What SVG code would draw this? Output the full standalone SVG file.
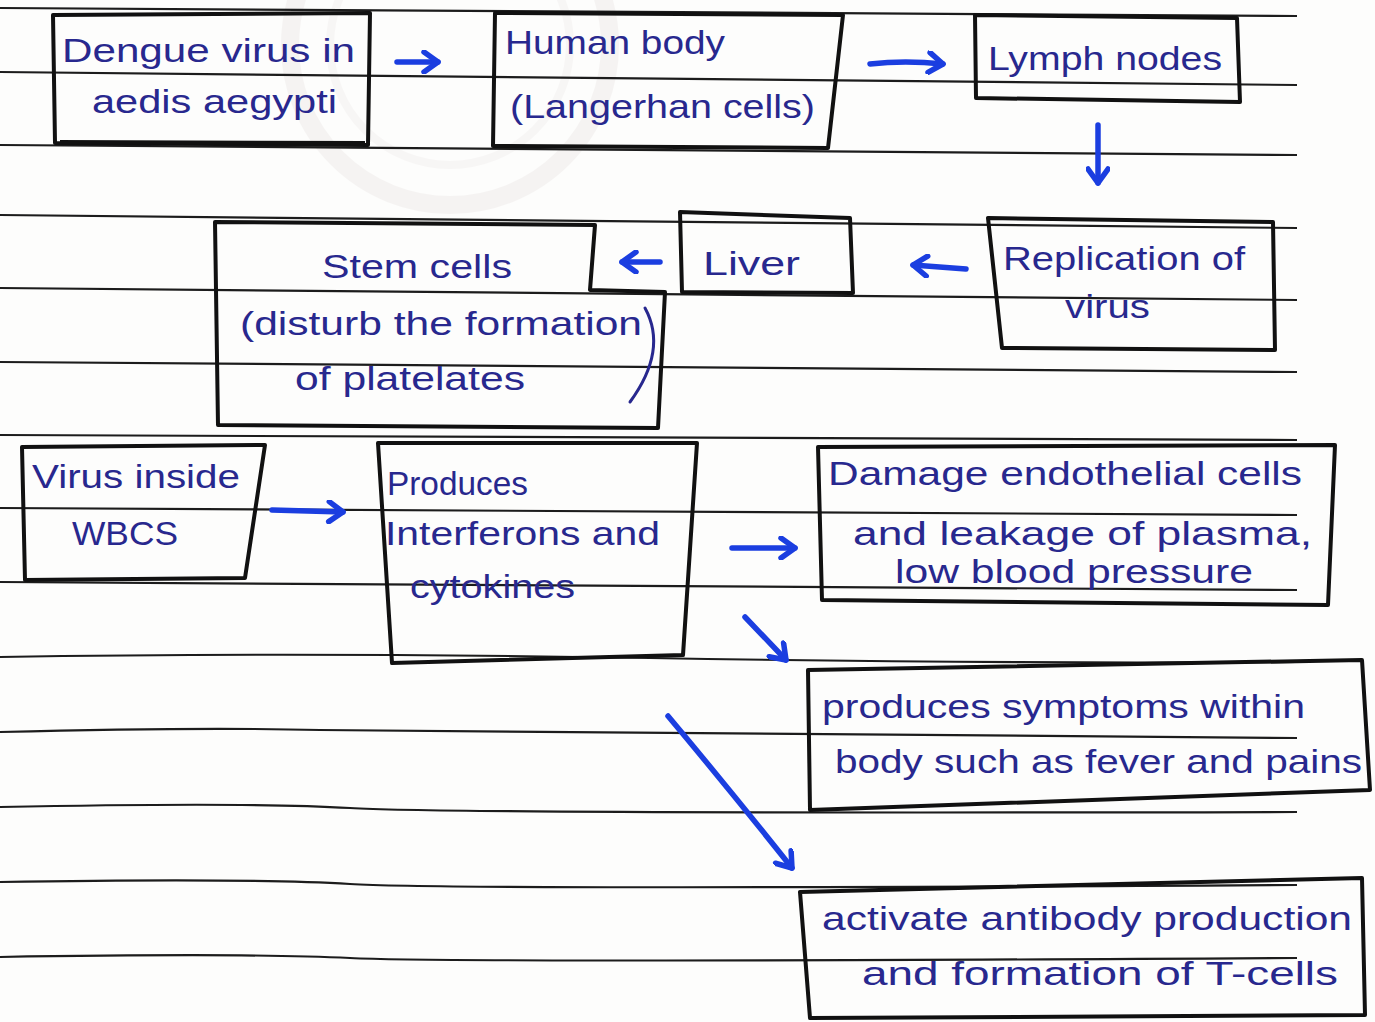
<svg xmlns="http://www.w3.org/2000/svg" width="1375" height="1022" viewBox="0 0 1375 1022">
<style>
.rule{fill:none;stroke:#1c1c1c;stroke-width:2.2}
.box{fill:none;stroke:#111;stroke-width:4;stroke-linejoin:round}
.t{font-family:"Liberation Sans","DejaVu Sans",sans-serif;font-size:34px;fill:#28288e}
.arr{fill:none;stroke:#1b3ee0;stroke-width:5.5;stroke-linecap:round;stroke-linejoin:round}
</style>
<defs>
<marker id="ah" viewBox="-20 -12 24 24" markerWidth="24" markerHeight="24" refX="0" refY="0" orient="auto" markerUnits="userSpaceOnUse">
<path d="M-14,-10 L0,0 L-14,10" fill="none" stroke="#1b3ee0" stroke-width="5.5" stroke-linecap="round" stroke-linejoin="round"/>
</marker>
</defs>
<rect width="1375" height="1022" fill="#fdfdfc"/>
<g id="watermark" opacity="0.25">
<circle cx="450" cy="45" r="160" fill="none" stroke="#e0d8d7" stroke-width="18"/>
<circle cx="450" cy="45" r="120" fill="none" stroke="#e8e2e2" stroke-width="8"/>
</g>
<g id="rules">
<path class="rule" d="M0,8 Q650,10 1297,16"/>
<path class="rule" d="M0,72 Q650,76 1297,85"/>
<path class="rule" d="M0,145 Q650,148 1297,155"/>
<path class="rule" d="M0,215 Q650,220 1297,228"/>
<path class="rule" d="M0,288 Q650,292 1297,300"/>
<path class="rule" d="M0,362 Q650,365 1297,372"/>
<path class="rule" d="M0,435 Q650,436 1297,440"/>
<path class="rule" d="M0,508 Q650,510 1297,515"/>
<path class="rule" d="M0,582 Q650,584 1297,590"/>
<path class="rule" d="M0,657 Q300,652 650,658 T1297,662"/>
<path class="rule" d="M0,732 Q200,727 320,730 T1297,738"/>
<path class="rule" d="M0,807 Q250,802 350,808 T1297,812"/>
<path class="rule" d="M0,882 Q250,878 350,884 T1297,885"/>
<path class="rule" d="M0,957 Q250,953 350,958 T1297,958"/>
</g>
<g id="connectors">
<path class="arr" d="M397,62 L438,62" marker-end="url(#ah)"/>
<path class="arr" d="M870,64 Q905,60 943,64" marker-end="url(#ah)"/>
<path class="arr" d="M1098,125 L1098,183" marker-end="url(#ah)"/>
<path class="arr" d="M966,269 L913,265" marker-end="url(#ah)"/>
<path class="arr" d="M660,262 L622,262" marker-end="url(#ah)"/>
<path class="arr" d="M272,510 L343,512" marker-end="url(#ah)"/>
<path class="arr" d="M732,548 L795,548" marker-end="url(#ah)"/>
<path class="arr" d="M745,617 L786,660" marker-end="url(#ah)"/>
<path class="arr" d="M668,716 Q730,790 792,868" marker-end="url(#ah)"/>
</g>
<g id="n1">
<path class="box" d="M53,15 L370,13 L368,145 L55,143 Z"/>
<path class="box" d="M60,142 L365,143" stroke-width="3"/>
<text class="t" x="62" y="62" textLength="293" lengthAdjust="spacingAndGlyphs">Dengue virus in</text>
<text class="t" x="92" y="113" textLength="245" lengthAdjust="spacingAndGlyphs">aedis aegypti</text>
</g>
<g id="n2">
<path class="box" d="M495,13 L843,15 L828,148 L493,146 Z"/>
<text class="t" x="505" y="54" textLength="220" lengthAdjust="spacingAndGlyphs">Human body</text>
<text class="t" x="510" y="118" textLength="305" lengthAdjust="spacingAndGlyphs">(Langerhan cells)</text>
</g>
<g id="n3">
<path class="box" d="M975,15 L1237,18 L1240,102 L976,98 Z"/>
<text class="t" x="988" y="70" textLength="234" lengthAdjust="spacingAndGlyphs">Lymph nodes</text>
</g>
<g id="n4">
<path class="box" d="M988,218 L1273,222 L1275,350 L1002,348 Z"/>
<text class="t" x="1003" y="270" textLength="242" lengthAdjust="spacingAndGlyphs">Replication of</text>
<text class="t" x="1065" y="318" textLength="85" lengthAdjust="spacingAndGlyphs">virus</text>
</g>
<g id="n5">
<path class="box" d="M680,212 L850,218 L853,293 L682,292 Z"/>
<text class="t" x="703" y="275" textLength="97" lengthAdjust="spacingAndGlyphs">Liver</text>
</g>
<g id="n6">
<path class="box" d="M215,222 L595,225 L590,290 L665,292 L658,428 L218,425 Z"/>
<text class="t" x="322" y="278" textLength="190" lengthAdjust="spacingAndGlyphs">Stem cells</text>
<text class="t" x="240" y="335" textLength="402" lengthAdjust="spacingAndGlyphs">(disturb the formation</text>
<path d="M645,308 Q668,350 630,402" fill="none" stroke="#28288e" stroke-width="3" stroke-linecap="round"/>
<text class="t" x="295" y="390" textLength="230" lengthAdjust="spacingAndGlyphs">of platelates</text>
</g>
<g id="n7">
<path class="box" d="M22,447 L265,445 L245,578 L25,580 Z"/>
<text class="t" x="32" y="488" textLength="208" lengthAdjust="spacingAndGlyphs">Virus inside</text>
<text class="t" x="72" y="545" textLength="106" lengthAdjust="spacingAndGlyphs">WBCS</text>
</g>
<g id="n8">
<path class="box" d="M378,443 L697,443 L683,655 L392,663 Z"/>
<text class="t" x="387" y="495" textLength="141" lengthAdjust="spacingAndGlyphs">Produces</text>
<text class="t" x="385" y="545" textLength="275" lengthAdjust="spacingAndGlyphs">Interferons and</text>
<text class="t" x="410" y="598" textLength="165" lengthAdjust="spacingAndGlyphs">cytokines</text>
</g>
<g id="n9">
<path class="box" d="M818,447 L1335,445 L1328,605 L822,600 Z"/>
<text class="t" x="828" y="485" textLength="474" lengthAdjust="spacingAndGlyphs">Damage endothelial cells</text>
<text class="t" x="853" y="545" textLength="459" lengthAdjust="spacingAndGlyphs">and leakage of plasma,</text>
<text class="t" x="895" y="583" textLength="358" lengthAdjust="spacingAndGlyphs">low blood pressure</text>
</g>
<g id="n10">
<path class="box" d="M808,670 L1362,660 L1370,790 L810,810 Z"/>
<text class="t" x="822" y="718" textLength="483" lengthAdjust="spacingAndGlyphs">produces symptoms within</text>
<text class="t" x="835" y="773" textLength="527" lengthAdjust="spacingAndGlyphs">body such as fever and pains</text>
</g>
<g id="n11">
<path class="box" d="M800,892 L1362,878 L1365,1015 L810,1018 Z"/>
<text class="t" x="822" y="930" textLength="530" lengthAdjust="spacingAndGlyphs">activate antibody production</text>
<text class="t" x="862" y="985" textLength="476" lengthAdjust="spacingAndGlyphs">and formation of T-cells</text>
</g>
</svg>
